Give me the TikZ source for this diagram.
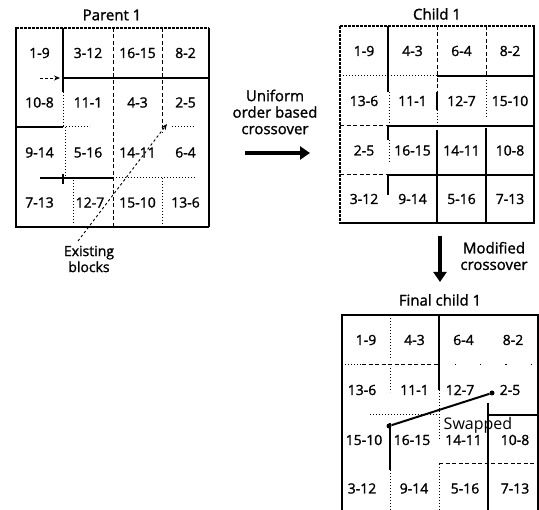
\documentclass[tikz,border=0pt]{standalone}
\usepackage{fontspec}
\setmainfont{Open Sans}[BoldFont=Open Sans, BoldFeatures={FakeBold=1.4}]
\usetikzlibrary{arrows.meta}
\begin{document}
\begin{tikzpicture}[x=1pt,y=-1pt,
  cell/.style={font=\fontsize{14}{14}\selectfont\bfseries, inner sep=0pt},
  title/.style={font=\fontsize{15}{15}\selectfont\bfseries, inner sep=0pt},
  caption/.style={font=\fontsize{15}{16.5}\selectfont\bfseries, align=center, inner sep=0pt},
  frame/.style={line width=1.8pt},
  densefr/.style={line width=1.8pt, dash pattern=on 3pt off 1pt},
  solidln/.style={line width=1.2pt},
  dashln/.style={line width=1pt, dash pattern=on 4pt off 2.5pt},
  dotln/.style={line width=1pt, dash pattern=on 1pt off 2pt},
  sparse/.style={line width=1pt, dash pattern=on 1.2pt off 24pt},
  bigarrow/.style={line width=4.5pt, -{Triangle[length=10pt,width=13pt]}},
  leader/.style={line width=0.9pt, dash pattern=on 2.5pt off 2.5pt, -{Stealth[length=6pt,width=5pt]}},
  swapdot/.style={circle, fill=black, inner sep=0pt, minimum size=5pt},
]
\useasboundingbox (0,0) rectangle (539,510);

% ---------------- Parent 1 ----------------
\node[title] (ptitle) at (112,15) {Parent 1};

\draw[frame] (16,27) -- (16,228);
\draw[densefr] (16,28) -- (209,28);
\draw[solidln] (209,28) -- (209,227);
\draw[frame] (16,227) -- (209,227);

\draw[solidln] (63,28) -- (63,92);
\draw[dotln] (63,92) -- (63,127);
\draw[dotln] (65,127) -- (65,178);
\draw[dotln] (73,180) -- (73,224);
\draw[dashln] (113,28) -- (113,227);
\draw[dashln] (162,28) -- (162,133);
\draw[dotln] (162,178) -- (162,227);

\draw[solidln] (63,78) -- (209,78);
\draw[solidln] (16,127) -- (63,127);
\draw[dotln] (63,127) -- (90,127);
\draw[dotln] (172,127) -- (195,127);
\draw[solidln] (40,178) -- (113,178);
\draw[solidln] (63,174) -- (63,184);
\draw[dotln] (113,178) -- (195,178);

\node[cell] (p11) at (39.5,53) {1-9};
\node[cell] (p12) at (88,53) {3-12};
\node[cell] (p13) at (137.5,53) {16-15};
\node[cell] (p14) at (185.5,53) {8-2};
\node[cell] (p21) at (39.5,102.5) {10-8};
\node[cell] (p22) at (88,102.5) {11-1};
\node[cell] (p23) at (137.5,102.5) {4-3};
\node[cell] (p24) at (185.5,102.5) {2-5};
\node[cell] (p31) at (39.5,152.5) {9-14};
\node[cell] (p32) at (88,152.5) {5-16};
\node[cell] (p33) at (137.5,152.5) {14-11};
\node[cell] (p34) at (185.5,152.5) {6-4};
\node[cell] (p41) at (39.5,202.5) {7-13};
\node[cell] (p42) at (90,202.5) {12-7};
\node[cell] (p43) at (137.5,202.5) {15-10};
\node[cell] (p44) at (185.5,202.5) {13-6};

% labels pointing at the existing blocks
\node[caption, font=\fontsize{14}{16}\selectfont\bfseries] (exist) at (89,259) {Existing\\blocks};
\coordinate (lfoot) at (78,241);
\coordinate (ltip) at (167,124);
\draw[leader] (lfoot) -- (ltip);
\coordinate (hfoot) at (40,78);
\coordinate (htip) at (60,78);
\draw[leader] (hfoot) -- (htip);

% ---------------- crossover arrow ----------------
\node[caption] (uob) at (275,112) {Uniform\\order based\\crossover};
\coordinate (ua) at (245,153);
\coordinate (ub) at (310,153);
\draw[bigarrow] (ua) -- (ub);

% ---------------- Child 1 ----------------
\node[title] (ctitle) at (437,14) {Child 1};

\draw[densefr] (340,26) -- (340,223);
\draw[densefr] (340,26) -- (534,26);
\draw[line width=1.5pt] (534,25) -- (534,223);
\draw[frame] (339,223) -- (535,223);

\draw[solidln] (388,26) -- (388,92);
\draw[dotln] (389,92) -- (389,126);
\draw[solidln] (388,126) -- (388,140);
\draw[dotln] (389,140) -- (389,162);
\draw[solidln] (388,175) -- (388,195);
\draw[dashln] (437,26) -- (437,92);
\draw[solidln] (437,92) -- (437,110);
\draw[dotln] (437,110) -- (437,126);
\draw[solidln] (437,130) -- (437,223);
\draw[dashln] (486,26) -- (486,76);
\draw[dotln] (486,80) -- (486,118);
\draw[solidln] (486,128) -- (486,223);

\draw[dotln] (340,76) -- (437,76);
\draw[solidln] (437,76) -- (534,76);
\draw[dashln] (340,126) -- (388,126);
\draw[solidln] (388,126) -- (534,126);
\draw[dashln] (340,175) -- (388,175);
\draw[solidln] (388,175) -- (534,175);

\node[cell] (c11) at (364,51) {1-9};
\node[cell] (c12) at (412.5,51) {4-3};
\node[cell] (c13) at (461.5,51) {6-4};
\node[cell] (c14) at (510,51) {8-2};
\node[cell] (c21) at (364,101) {13-6};
\node[cell] (c22) at (412.5,101) {11-1};
\node[cell] (c23) at (461.5,101) {12-7};
\node[cell] (c24) at (510,101) {15-10};
\node[cell] (c31) at (364,150.5) {2-5};
\node[cell] (c32) at (412.5,150.5) {16-15};
\node[cell] (c33) at (461.5,150.5) {14-11};
\node[cell] (c34) at (510,150.5) {10-8};
\node[cell] (c41) at (364,199) {3-12};
\node[cell] (c42) at (412.5,199) {9-14};
\node[cell] (c43) at (461.5,199) {5-16};
\node[cell] (c44) at (510,199) {7-13};

% ---------------- modified crossover arrow ----------------
\node[caption] (modc) at (494,256) {Modified\\crossover};
\coordinate (ma) at (440,236);
\coordinate (mb) at (440,282);
\draw[bigarrow] (ma) -- (mb);

% ---------------- Final child 1 ----------------
\node[title] (ftitle) at (440,300) {Final child 1};

\draw[frame] (342,314) -- (342,515);
\draw[frame] (341,315) -- (539,315);
\draw[line width=1.5pt] (538,315) -- (538,515);

\draw[dotln] (390,318) -- (390,360);
\draw[dotln] (390,368) -- (390,392);
\draw[solidln] (390,423) -- (390,470);
\draw[dotln] (390,470) -- (390,512);
\draw[solidln] (439,315) -- (439,390);
\draw[dotln] (439,390) -- (439,440);
\draw[dotln] (439,464) -- (439,512);
\draw[solidln] (488,403) -- (488,515);

\draw[dotln] (342,365) -- (362,365);
\draw[dashln] (362,365) -- (439,365);
\draw[sparse] (455,365) -- (538,365);
\draw[dotln] (370,415) -- (439,415);
\draw[solidln] (488,415) -- (538,415);
\draw[dashln] (439,464) -- (538,464);

\node[cell] (f11) at (366,340) {1-9};
\node[cell] (f12) at (414.5,340) {4-3};
\node[cell] (f13) at (463.5,340) {6-4};
\node[cell] (f14) at (513,340) {8-2};
\node[cell] (f21) at (362,390) {13-6};
\node[cell] (f22) at (414.5,390) {11-1};
\node[cell] (f23) at (460,390) {12-7};
\node[cell] (f24) at (510,390) {2-5};
\node[cell] (f31) at (364,440) {15-10};
\node[cell] (f32) at (412,440) {16-15};
\node[cell] (f33) at (463.5,440) {14-11};
\node[cell] (f34) at (515,440) {10-8};
\node[cell] (f41) at (362,488.5) {3-12};
\node[cell] (f42) at (414,488.5) {9-14};
\node[cell] (f43) at (465,488.5) {5-16};
\node[cell] (f44) at (515,488.5) {7-13};

% the swap between the two cells
\node[swapdot] (sa) at (389,426) {};
\node[swapdot] (sb) at (492,393) {};
\draw[line width=2pt] (sa) -- (sb);
\node[inner sep=0pt, font=\fontsize{16}{16}\selectfont] (swp) at (478,425) {Swapped};

\end{tikzpicture}
\end{document}
